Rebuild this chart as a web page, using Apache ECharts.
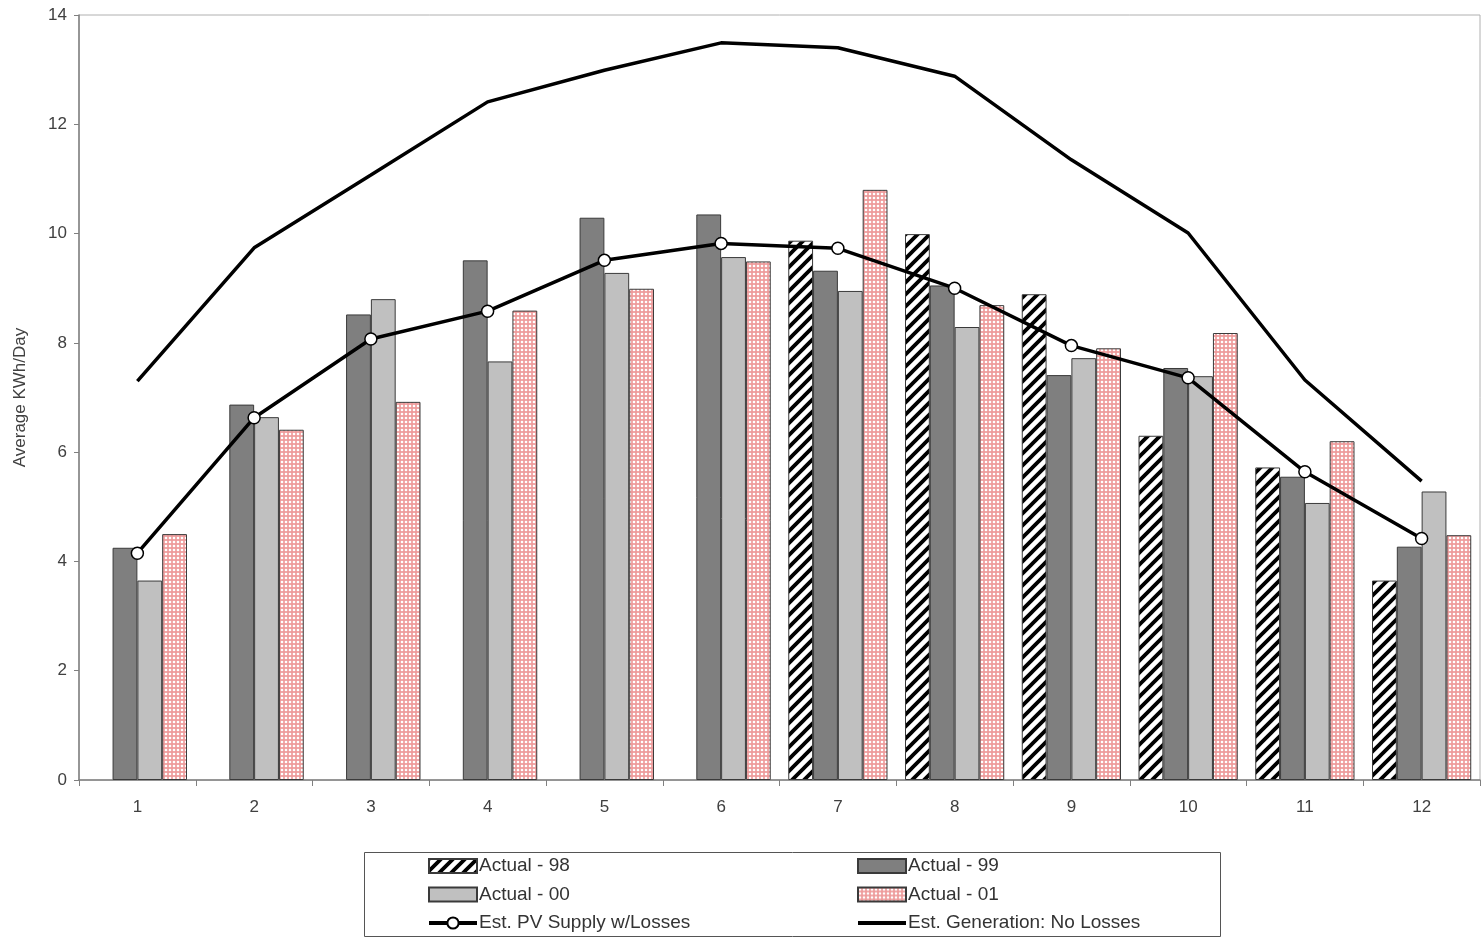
<!DOCTYPE html>
<html>
<head>
<meta charset="utf-8">
<style>
html,body{margin:0;padding:0;background:#fff;}
#chart{width:1481px;height:939px;}
</style>
<script src="https://cdn.jsdelivr.net/npm/echarts@6/dist/echarts.min.js"></script>
</head>
<body>
<div id="chart"></div>
<script>
var months = ['1','2','3','4','5','6','7','8','9','10','11','12'];
var actual98 = [null, null, null, null, null, null, 9.87, 9.99, 8.89, 6.3, 5.72, 3.65];
var actual99 = [4.25, 6.87, 8.52, 9.51, 10.29, 10.35, 9.32, 9.05, 7.41, 7.54, 5.55, 4.27];
var actual00 = [3.65, 6.64, 8.8, 7.66, 9.28, 9.57, 8.95, 8.29, 7.72, 7.39, 5.07, 5.28];
var actual01 = [4.5, 6.41, 6.92, 8.59, 8.99, 9.49, 10.8, 8.69, 7.9, 8.18, 6.2, 4.48];
var pvSupply = [4.15, 6.63, 8.07, 8.58, 9.51, 9.82, 9.73, 9.0, 7.95, 7.36, 5.64, 4.42];
var generation = [7.3, 9.74, 11.07, 12.41, 12.99, 13.49, 13.4, 12.88, 11.35, 10.01, 7.32, 5.47];
var yTicks = [0, 2, 4, 6, 8, 10, 12, 14];

function stripePattern() {
  var c = document.createElement('canvas');
  c.width = 12; c.height = 12;
  var g = c.getContext('2d');
  g.fillStyle = '#fff'; g.fillRect(0, 0, 12, 12);
  g.strokeStyle = '#000'; g.lineWidth = 3.8;
  g.beginPath();
  g.moveTo(-3, 15); g.lineTo(15, -3);
  g.moveTo(-9, 9); g.lineTo(9, -9);
  g.moveTo(3, 21); g.lineTo(21, 3);
  g.stroke();
  return c;
}
function dotPattern() {
  var c = document.createElement('canvas');
  c.width = 4; c.height = 4;
  var g = c.getContext('2d');
  g.fillStyle = '#ee9c9c'; g.fillRect(0, 0, 4, 4);
  g.fillStyle = '#fff';
  g.beginPath(); g.arc(2, 2, 1.3, 0, Math.PI * 2); g.fill();
  return c;
}

var chart = echarts.init(document.getElementById('chart'));
var font = 'Liberation Sans, Arial, sans-serif';
var barBorder = { borderColor: '#3a3a3a', borderWidth: 1 };

function barSeries(name, data, color) {
  return {
    name: name, type: 'bar', data: data, barGap: '0%', barCategoryGap: '15%',
    itemStyle: Object.assign({ color: color }, barBorder)
  };
}

var legendText = { color: '#333', fontSize: 19, fontFamily: font, lineHeight: 20, padding: [0, 0, 0, -3] };

var option = {
  animation: false,
  backgroundColor: '#fff',
  grid: { left: 79, right: 1, top: 15, bottom: 159, show: true, borderColor: '#b0b0b0', borderWidth: 1 },
  xAxis: {
    type: 'category', data: months,
    axisLine: { lineStyle: { color: '#808080', width: 1.5 } },
    axisTick: { show: true, length: 6, lineStyle: { color: '#808080' } },
    axisLabel: { color: '#404040', fontSize: 17, fontFamily: font, margin: 19 }
  },
  yAxis: {
    type: 'value', min: 0, max: 14, interval: 2,
    name: 'Average KWh/Day', nameLocation: 'middle', nameGap: 50,
    nameTextStyle: { color: '#404040', fontSize: 17, fontFamily: font },
    axisLine: { show: true, lineStyle: { color: '#808080', width: 1.5 } },
    axisTick: { show: true, length: 5, lineStyle: { color: '#808080' } },
    splitLine: { show: false },
    axisLabel: { color: '#404040', fontSize: 17, fontFamily: font, margin: 12,
      formatter: function (v) { return yTicks.indexOf(v) >= 0 ? String(v) : ''; } }
  },
  legend: [
    {
      orient: 'vertical', left: 427, top: 856, padding: 0, itemWidth: 48, itemHeight: 14, itemGap: 8.5,
      textStyle: legendText, lineStyle: { width: 4 },
      data: [
        { name: 'Actual - 98', icon: 'rect' },
        { name: 'Actual - 00', icon: 'rect' },
        { name: 'Est. PV Supply w/Losses' }
      ]
    },
    {
      orient: 'vertical', left: 856, top: 856, padding: 0, itemWidth: 48, itemHeight: 14, itemGap: 8.5,
      textStyle: legendText, lineStyle: { width: 4 },
      data: [
        { name: 'Actual - 99', icon: 'rect' },
        { name: 'Actual - 01', icon: 'rect' },
        { name: 'Est. Generation: No Losses', itemStyle: { opacity: 0 } }
      ]
    }
  ],
  graphic: [{
    type: 'rect', x: 0, y: 0, shape: { x: 364.5, y: 852.5, width: 856, height: 84 },
    style: { fill: 'none', stroke: '#555', lineWidth: 1 }, silent: true
  }],
  series: [
    barSeries('Actual - 98', actual98, { image: stripePattern(), repeat: 'repeat' }),
    barSeries('Actual - 99', actual99, '#7f7f7f'),
    barSeries('Actual - 00', actual00, '#c0c0c0'),
    barSeries('Actual - 01', actual01, { image: dotPattern(), repeat: 'repeat' }),
    {
      name: 'Est. PV Supply w/Losses', type: 'line', data: pvSupply, z: 5,
      symbol: 'circle', symbolSize: 12,
      lineStyle: { color: '#000', width: 3.5 },
      itemStyle: { color: '#fff', borderColor: '#000', borderWidth: 1.5 }
    },
    {
      name: 'Est. Generation: No Losses', type: 'line', data: generation, z: 5,
      symbol: 'none',
      lineStyle: { color: '#000', width: 3.5 },
      itemStyle: { color: 'rgba(0,0,0,0)', borderWidth: 0 }
    }
  ]
};
chart.setOption(option);
</script>
</body>
</html>
